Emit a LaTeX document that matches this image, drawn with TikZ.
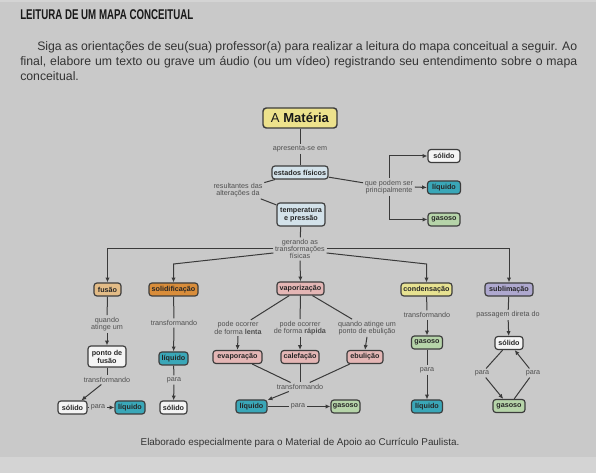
\documentclass[tikz,border=0pt]{standalone}
\usepackage{fontspec}
\usepackage{graphicx}
\setmainfont{Liberation Sans}
\usetikzlibrary{arrows.meta,calc}
\definecolor{bg}{HTML}{C9C9C9}
\definecolor{bgout}{HTML}{D4D4D4}
\definecolor{bdr}{HTML}{3C3C3C}
\definecolor{lnc}{HTML}{3A3A3A}
\definecolor{txt}{HTML}{505050}
\definecolor{bodytxt}{HTML}{333333}
\definecolor{cyellowA}{HTML}{EDE28C}
\definecolor{clblue}{HTML}{D3E2EA}
\definecolor{cwhite}{HTML}{F4F4F4}
\definecolor{cteal}{HTML}{3AA7B8}
\definecolor{cgreen}{HTML}{B6D4A9}
\definecolor{ctan}{HTML}{E3BC87}
\definecolor{corange}{HTML}{D98D3A}
\definecolor{cpink}{HTML}{E4B6B5}
\definecolor{cyellowB}{HTML}{E7E291}
\definecolor{cpurple}{HTML}{AEA8CF}
\begin{document}
\begin{tikzpicture}[x=0.75pt,y=-0.75pt,
  box/.style={draw=bdr, line width=0.9pt, rounded corners=2.2pt,
    font=\fontsize{5.4}{5.9}\selectfont\bfseries, text=black!85,
    inner xsep=1.2pt, inner ysep=0pt, minimum height=9.75pt, align=center},
  tall/.style={minimum height=16.5pt},
  lbl/.style={font=\fontsize{5.4}{5.4}\selectfont, text=txt, inner sep=1.2pt, align=center},
  ln/.style={draw=lnc, line width=0.75pt},
  ar/.style={ln, -{Latex[length=3.6pt,width=3.2pt]}},
  wbox/.style={box, fill=cwhite},
  tbox/.style={box, fill=cteal},
  gbox/.style={box, fill=cgreen},
  pbox/.style={box, fill=cpink}
]
\useasboundingbox (0,0) rectangle (596,473);
\fill[bgout] (0,0) rectangle (596,473);
\fill[bg] (0,2) rectangle (596,457);

% header
\node[anchor=west, inner sep=0, text=black!90] (title) at (20,15)
  {\resizebox{129.75pt}{7.4pt}{\bfseries LEITURA DE UM MAPA CONCEITUAL}};
\node[anchor=base west, inner sep=0, text=bodytxt] (body) at (20,51)
  {\parbox[t]{417.75pt}{\fontsize{9.2}{10.9}\selectfont\hspace*{12.75pt}Siga as orientações de seu(sua) professor(a) para realizar a leitura do mapa conceitual a seguir. Ao\linebreak
  final, elabore um texto ou grave um áudio (ou um vídeo) registrando seu entendimento sobre o mapa\linebreak
  conceitual.}};

% top part
\node[draw=bdr, line width=1.1pt, rounded corners=2.5pt, fill=cyellowA, minimum width=55.5pt,
  minimum height=15pt, inner sep=1pt, font=\fontsize{9.8}{10}\selectfont, text=black!90] (mat) at (300,118)
  {A \textbf{Matéria}};
\node[lbl] (l1) at (300,149) {apresenta-se em};
\node[box, fill=clblue, minimum width=42pt] (est) at (300,172.5) {estados físicos};
\node[lbl] (l2) at (238,190) {resultantes das\\alterações da};
\node[box, tall, fill=clblue, minimum width=36pt, minimum height=17.25pt] (temp) at (301,214.5) {temperatura\\e pressão};
\node[lbl] (l3) at (389,187) {que podem ser\\principalmente};
\node[wbox, minimum width=24pt] (s1) at (444,156) {sólido};
\node[tbox, minimum width=24.75pt] (q1) at (444,187.5) {líquido};
\node[gbox, minimum width=24pt] (g1) at (444,219.5) {gasoso};
\node[lbl] (l4) at (300,249) {gerando as\\transformações\\físicas};

\draw[ln] (mat) -- (l1);
\draw[ln] (l1) -- (est);
\draw[ln] (est) -- (l2);
\draw[ln] (l2) -- (temp);
\draw[ln] (est) -- (l3);
\draw[ar] (l3.north) |- (s1.west);
\draw[ar] (l3.east) -- (q1.west);
\draw[ar] (l3.south) |- (g1.west);
\draw[ln] (temp) -- (l4);

% second row
\node[box, fill=ctan, minimum width=20.25pt] (fus) at (107.5,289.5) {fusão};
\node[box, fill=corange, minimum width=36.75pt] (sol) at (173.5,289.5) {solidificação};
\node[pbox, minimum width=35.25pt] (vap) at (300.5,288.5) {vaporização};
\node[box, fill=cyellowB, minimum width=38.25pt] (con) at (426.5,289.5) {condensação};
\node[box, fill=cpurple, minimum width=36pt] (sub) at (509,289.5) {sublimação};

\coordinate (cs) at (173.5,264);
\coordinate (cc) at (426.5,264);
\draw[ar] (l4.west) -| (fus.north);
\draw[ar] ($(l4.west)+(0,4)$) -- (cs) -- (sol.north);
\draw[ar] (l4.south) -- (vap.north);
\draw[ar] ($(l4.east)+(0,4)$) -- (cc) -- (con.north);
\draw[ar] (l4.east) -| (sub.north);

% fusao column
\node[lbl] (l5) at (107,324) {quando\\atinge um};
\node[wbox, tall, minimum width=28.5pt, minimum height=15.75pt] (pf) at (107,356.5) {ponto de\\fusão};
\node[lbl] (l6) at (107,380) {transformando};
\node[wbox, minimum width=21.75pt] (s2) at (72.5,407.5) {sólido};
\node[lbl] (l7) at (98,407.5) {para};
\node[tbox, minimum width=22.5pt] (q2) at (130,407.5) {líquido};
\draw[ln] (fus) -- (l5);
\draw[ar] (l5) -- (pf);
\draw[ln] (pf) -- (l6);
\draw[ar] (l6) -- (s2);
\draw[ln] (s2) -- (l7);
\draw[ar] (l7) -- (q2);

% solidificacao column
\node[lbl] (l8) at (174,323) {transformando};
\node[tbox, minimum width=21.75pt] (q3) at (173.5,358.5) {líquido};
\node[lbl] (l9) at (174,380) {para};
\node[wbox, minimum width=20.25pt] (s3) at (173.5,407.5) {sólido};
\draw[ln] (sol) -- (l8);
\draw[ar] (l8) -- (q3);
\draw[ln] (q3) -- (l9);
\draw[ar] (l9) -- (s3);

% vaporizacao column
\node[lbl] (l10) at (238,328) {pode ocorrer\\de forma \textbf{lenta}};
\node[lbl] (l11) at (300,328) {pode ocorrer\\de forma \textbf{rápida}};
\node[lbl] (l12) at (367,328) {quando atinge um\\ponto de ebulição};
\node[pbox, minimum width=36.75pt] (ev) at (237.5,357) {evaporação};
\node[pbox, minimum width=28.5pt] (ca) at (300,357) {calefação};
\node[pbox, minimum width=27pt] (eb) at (365,357) {ebulição};
\node[lbl] (l13) at (300,387) {transformando};
\node[tbox, minimum width=23.25pt] (q4) at (251.5,406.5) {líquido};
\node[lbl] (l14) at (298,406.5) {para};
\node[gbox, minimum width=21.75pt] (g4) at (345.5,406.5) {gasoso};
\draw[ln] (vap) -- (l10);
\draw[ln] (vap) -- (l11);
\draw[ln] (vap) -- (l12);
\draw[ar] (l10.south) -- (ev.north);
\draw[ar] (l11.south) -- (ca.north);
\draw[ar] (l12.south) -- (eb.north);
\draw[ln] (ev) -- (l13);
\draw[ln] (ca) -- (l13);
\draw[ln] (eb) -- (l13);
\draw[ar] (l13) -- (q4);
\draw[ln] (q4) -- (l14);
\draw[ar] (l14) -- (g4);

% condensacao column
\node[lbl] (l15) at (427,315) {transformando};
\node[gbox, minimum width=23.25pt] (g5) at (427,342.5) {gasoso};
\node[lbl] (l16) at (427,370) {para};
\node[tbox, minimum width=23.25pt] (q5) at (427,406.5) {líquido};
\draw[ln] (con) -- (l15);
\draw[ar] (l15) -- (g5);
\draw[ln] (g5) -- (l16);
\draw[ar] (l16) -- (q5);

% sublimacao column
\node[lbl] (l17) at (508,315) {passagem direta do};
\node[wbox, minimum width=21pt] (s6) at (509,343) {sólido};
\node[lbl] (l18) at (482,373) {para};
\node[gbox, minimum width=24pt] (g6) at (509,406) {gasoso};
\node[lbl] (l19) at (533,373) {para};
\draw[ln] (sub) -- (l17);
\draw[ar] (l17) -- (s6);
\draw[ln] (s6) -- (l18);
\draw[ar] (l18) -- (g6);
\draw[ln] (g6) -- (l19);
\draw[ar] (l19) -- (s6);

% footer
\node[inner sep=0, text=bodytxt, font=\fontsize{7.4}{8}\selectfont] (foot) at (300,443)
  {Elaborado especialmente para o Material de Apoio ao Currículo Paulista.};
\end{tikzpicture}
\end{document}
